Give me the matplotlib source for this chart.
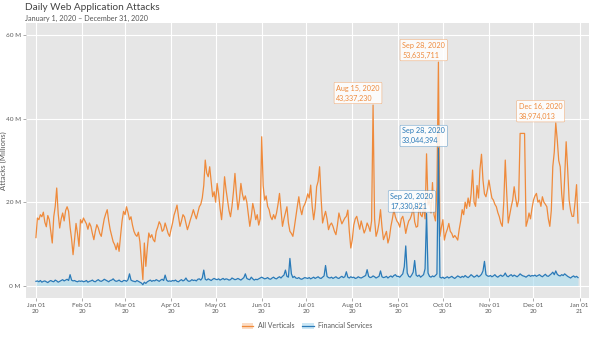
import numpy as np
import pandas as pd
import matplotlib
matplotlib.use("Agg")
import matplotlib.pyplot as plt
import matplotlib.dates as mdates
from matplotlib.patches import Patch
from matplotlib.lines import Line2D

plt.rcParams['font.family'] = ['Lato', 'DejaVu Sans']

# daily attacks in millions, 2020
all_verticals = [
    # Jan
    11.5, 16.2, 15.8, 17.0, 16.5, 17.6, 15.2, 14.1, 16.8, 15.8, 13.0, 10.2, 16.5, 19.0, 23.4, 17.2,
    13.8, 16.0, 17.4, 15.5, 18.0, 18.9, 17.8, 14.0, 11.2, 7.4, 11.0, 14.9, 12.5, 9.4, 15.8,
    # Feb
    15.0, 16.2, 15.5, 14.8, 13.5, 15.0, 14.2, 12.5, 11.0, 13.0, 14.6, 13.8, 12.5, 11.8, 14.0, 16.0,
    17.2, 18.2, 15.5, 13.4, 12.0, 10.5, 9.8, 8.6, 10.2, 8.2, 12.0, 15.5, 17.8,
    # Mar
    17.0, 18.9, 17.5, 15.8, 16.5, 14.5, 13.0, 12.2, 11.8, 12.8, 10.5, 6.0, 1.4, 10.2, 4.6, 9.0,
    12.6, 11.5, 12.2, 11.0, 10.5, 13.0, 14.0, 15.3, 14.6, 13.0, 13.4, 15.0, 13.8, 12.5, 11.8,
    # Apr
    13.5, 15.0, 16.9, 18.0, 19.3, 16.5, 14.2, 15.5, 17.0, 16.5, 15.0, 13.4, 14.5, 15.8, 16.9, 18.2,
    17.0, 16.0, 17.5, 18.9, 19.5, 21.0, 24.0, 30.1, 27.0, 26.1, 28.5, 25.0, 21.3, 22.5,
    # May
    20.0, 24.5, 22.0, 18.5, 15.8, 20.0, 26.1, 23.0, 20.5, 18.0, 16.5, 19.0, 22.5, 26.9, 22.0, 18.2,
    20.5, 24.5, 22.0, 20.5, 21.5, 20.0, 17.0, 14.2, 16.5, 19.7, 18.0, 15.8, 17.0, 14.5, 16.0,
    # Jun
    35.7, 24.0, 20.5, 21.5, 19.0, 18.2, 16.5, 15.8, 17.0, 16.0, 17.4, 19.5, 22.1, 18.0, 14.2, 16.0,
    17.5, 18.9, 15.0, 13.0, 12.5, 11.8, 14.0, 16.5, 19.0, 21.3, 18.5, 17.0, 18.8, 19.5,
    # Jul
    20.5, 22.0, 21.0, 24.1, 19.0, 15.8, 18.5, 23.7, 25.0, 28.5, 21.0, 15.0, 16.5, 17.8, 16.0, 13.4,
    14.5, 15.0, 14.2, 13.0, 12.2, 14.5, 17.4, 16.0, 14.8, 15.5, 16.2, 16.6, 18.1, 13.0, 9.0,
    # Aug
    11.0, 14.5, 16.0, 16.6, 15.0, 13.5, 15.5, 14.0, 12.6, 13.5, 15.0, 14.2, 13.0, 15.5, 43.3, 16.0,
    11.8, 13.0, 15.0, 18.2, 14.0, 11.0, 12.0, 13.0, 10.2, 11.5, 14.2, 16.0, 18.2, 16.5, 15.5,
    # Sep
    15.0, 14.0, 16.0, 16.6, 15.0, 12.5, 14.2, 15.5, 16.0, 17.0, 18.9, 15.3, 14.0, 14.2, 19.7, 17.0,
    16.5, 18.9, 16.0, 31.6, 19.3, 20.5, 17.4, 24.7, 17.0, 15.5, 23.7, 53.6, 11.8, 14.0,
    # Oct
    15.8, 10.9, 12.5, 13.5, 14.9, 13.0, 12.5, 11.5, 12.0, 11.5, 10.9, 13.5, 15.5, 18.2, 17.0, 20.0,
    18.5, 21.0, 19.0, 22.0, 27.7, 20.0, 19.0, 24.0, 21.0, 28.0, 31.5, 25.3, 22.0, 21.3, 23.0,
    # Nov
    25.3, 23.0, 21.0, 20.5, 19.5, 18.9, 17.5, 16.5, 15.0, 14.2, 20.0, 30.1, 22.0, 15.0, 17.0, 18.9,
    20.5, 23.7, 21.0, 18.9, 20.5, 36.5, 36.5, 36.5, 36.5, 14.2, 15.5, 17.4, 16.0, 18.5,
    # Dec
    20.5, 21.5, 22.1, 20.0, 20.5, 19.0, 21.3, 20.0, 19.5, 18.9, 16.0, 14.2, 18.0, 28.5, 32.0, 39.0,
    35.0, 30.0, 28.5, 22.0, 18.2, 26.0, 34.5, 28.0, 20.5, 18.0, 16.6, 16.6, 20.0, 24.2, 15.0,
]

financial_services = [
    # Jan
    1.0, 1.1, 0.9, 1.2, 0.8, 1.0, 1.1, 0.9, 0.7, 1.0, 1.2, 1.0, 0.9, 1.3, 1.1, 0.8,
    1.0, 1.2, 1.4, 1.1, 1.3, 1.5, 1.2, 2.6, 1.3, 1.1, 1.2, 1.0, 0.9, 1.1, 1.0,
    # Feb
    1.1, 0.9, 1.0, 1.2, 0.8, 1.0, 1.1, 1.3, 1.0, 0.9, 1.2, 1.4, 1.1, 1.0, 1.2, 1.5,
    1.3, 1.1, 0.9, 1.2, 1.3, 1.6, 1.2, 1.0, 1.1, 1.3, 1.0, 0.9, 1.2,
    # Mar
    1.2, 1.0, 1.4, 2.8, 1.3, 1.1, 1.0, 0.9, 1.2, 1.0, 0.8, 0.6, 0.2, 0.8, 0.5, 0.9,
    1.1, 1.3, 1.0, 1.2, 1.1, 1.4, 1.2, 1.0, 1.3, 1.5, 1.2, 2.5, 1.3, 1.0, 1.1,
    # Apr
    1.0, 1.2, 1.1, 1.3, 1.0, 0.9, 1.2, 1.4, 1.1, 1.3, 1.8, 1.2, 1.0, 1.1, 1.4, 1.2,
    1.3, 1.1, 1.5, 1.6, 1.3, 1.8, 3.7, 1.5, 1.3, 1.6, 1.4, 1.2, 1.5, 1.7,
    # May
    1.5, 1.4, 1.6, 1.3, 1.5, 1.7, 1.4, 1.6, 1.5, 1.3, 1.4, 1.8, 1.6, 1.4, 1.5, 1.7,
    1.5, 1.3, 1.6, 1.9, 2.8, 1.7, 1.5, 1.4, 2.0, 1.6, 1.3, 1.5, 1.4, 1.6, 1.8,
    # Jun
    2.0, 1.8, 1.6, 1.7, 1.9, 1.6, 1.5, 1.8, 2.0, 1.7, 1.6, 1.9, 2.1, 1.8, 2.2, 2.5,
    3.7, 2.2, 2.0, 6.5, 2.8, 1.9, 2.2, 1.8, 1.7, 1.9, 1.6, 1.5, 1.7, 1.9,
    # Jul
    1.8, 1.7, 1.9, 1.6, 1.8, 2.0, 1.7, 1.9, 2.1, 1.8, 1.7, 2.0, 2.3, 4.8, 2.2, 1.9,
    1.8, 2.0, 1.7, 1.9, 2.1, 1.8, 1.7, 2.0, 2.2, 1.9, 2.1, 3.3, 2.0, 1.8, 2.1,
    # Aug
    1.9, 2.0, 1.7, 1.8, 2.1, 1.9, 1.8, 2.0, 2.2, 2.4, 3.8, 2.2, 1.9, 2.0, 2.3, 2.1,
    1.8, 2.0, 2.2, 3.5, 2.1, 1.9, 2.0, 2.2, 1.8, 2.1, 2.3, 2.0, 2.4, 2.6, 2.2,
    # Sep
    2.2, 2.0, 2.4, 2.8, 4.5, 9.5, 3.0, 2.2, 2.0, 2.5, 3.2, 6.0, 2.5, 2.2, 2.5, 2.0,
    2.3, 2.6, 4.0, 17.3, 3.0, 2.2, 2.0, 2.3, 2.1, 2.4, 2.8, 33.0, 2.0, 1.8,
    # Oct
    2.0, 1.7, 1.9, 2.1, 1.8, 2.0, 2.2, 1.9, 1.7, 2.0, 2.3, 2.1, 1.9, 2.2, 2.0, 2.4,
    2.1, 1.9, 2.2, 2.6, 2.3, 2.0, 2.2, 2.5, 2.1, 2.3, 2.7, 3.5, 5.8, 2.6, 2.3,
    # Nov
    2.2, 2.4, 2.1, 2.3, 2.6, 2.2, 2.0, 2.3, 2.5, 2.2, 2.4, 3.0, 2.3, 2.1, 2.4, 2.6,
    2.2, 2.5, 2.3, 2.1, 2.4, 2.8, 2.5, 2.3, 2.2, 2.0, 2.3, 2.5, 2.2, 2.4,
    # Dec
    2.3, 2.5, 2.2, 2.4, 2.6, 2.3, 2.1, 2.4, 2.7, 2.3, 2.2, 2.5, 2.8, 3.2, 2.6, 3.5,
    2.7, 2.4, 2.3, 2.6, 2.4, 2.8, 2.5, 2.2, 2.0, 1.8, 2.1, 2.3, 2.0, 2.2, 1.9,
]

# labelled peaks: (date, value in millions, label text, series)
peaks = [
    ("2020-08-15", 43.337230, "Aug 15, 2020\n43,337,230", "all"),
    ("2020-09-28", 53.635711, "Sep 28, 2020\n53,635,711", "all"),
    ("2020-12-16", 38.974013, "Dec 16, 2020\n38,974,013", "all"),
    ("2020-09-28", 33.044394, "Sep 28, 2020\n33,044,394", "fin"),
    ("2020-09-20", 17.330821, "Sep 20, 2020\n17,330,821", "fin"),
]

dates = pd.date_range("2020-01-01", "2020-12-31", freq="D")

orange = "#ef8a3b"
blue = "#2a7ab8"
text_grey = "#5a5a5a"

fig = plt.figure(figsize=(5.93, 3.38), dpi=100)
ax = fig.add_axes([0.0438, 0.1183, 0.9495, 0.8137])
ax.set_facecolor("#e6e6e6")

ax.fill_between(dates, 0, financial_services, color="#a9dcf0", alpha=0.6, lw=0)
ax.plot(dates, all_verticals, color=orange, lw=0.9)
ax.plot(dates, financial_services, color=blue, lw=0.9)

for d, v, txt, s in peaks:
    c = orange if s == "all" else blue
    ax.text(pd.Timestamp(d) + pd.Timedelta(days=4.5), v + 0.8, txt, ha="right", va="bottom",
            multialignment="left", fontsize=5.2, color=c, linespacing=1.5,
            bbox=dict(boxstyle="round,pad=0.3,rounding_size=0.15", fc="white", ec=c,
                      lw=0.3, alpha=0.85))

ax.set_ylim(-3, 63)
ax.set_yticks([0, 20, 40, 60])
ax.set_yticklabels(["0 M", "20 M", "40 M", "60 M"])
ax.set_xlim(pd.Timestamp("2020-01-01") - pd.Timedelta(days=6.7),
            pd.Timestamp("2020-01-01") + pd.Timedelta(days=372.4))
ax.set_xticks(pd.date_range("2020-01-01", "2021-01-01", freq="MS"))
ax.xaxis.set_major_formatter(mdates.DateFormatter("%b %d\n%y"))

ax.grid(True, color="white", lw=0.8)
ax.set_axisbelow(True)
for sp in ax.spines.values():
    sp.set_visible(False)
ax.tick_params(colors="#8a8a8a", labelcolor=text_grey, labelsize=4.6, length=2.2, width=0.5, pad=1.5)

ax.set_ylabel("Attacks (Millions)", fontsize=5.6, color=text_grey)
ax.yaxis.set_label_coords(-0.033, 0.5)

fig.text(0.042, 0.99, "Daily Web Application Attacks", fontsize=7.2, color="#444444", va="top")
fig.text(0.042, 0.955, "January 1, 2020 \u2013 December 31, 2020", fontsize=5.2, color="#555555", va="top")

handles = [
    (Patch(fc="#fbdcc4", ec="none"), Line2D([], [], color=orange, lw=0.9)),
    (Patch(fc="#cbe7f5", ec="none"), Line2D([], [], color=blue, lw=0.9)),
]
fig.legend(handles, ["All Verticals", "Financial Services"], loc="center", ncol=2,
           bbox_to_anchor=(0.518, 0.036), frameon=False, fontsize=5, handlelength=1.6,
           handleheight=1.0, columnspacing=1.2, handletextpad=0.6, labelcolor=text_grey)

fig.savefig("out.png", dpi=100)
